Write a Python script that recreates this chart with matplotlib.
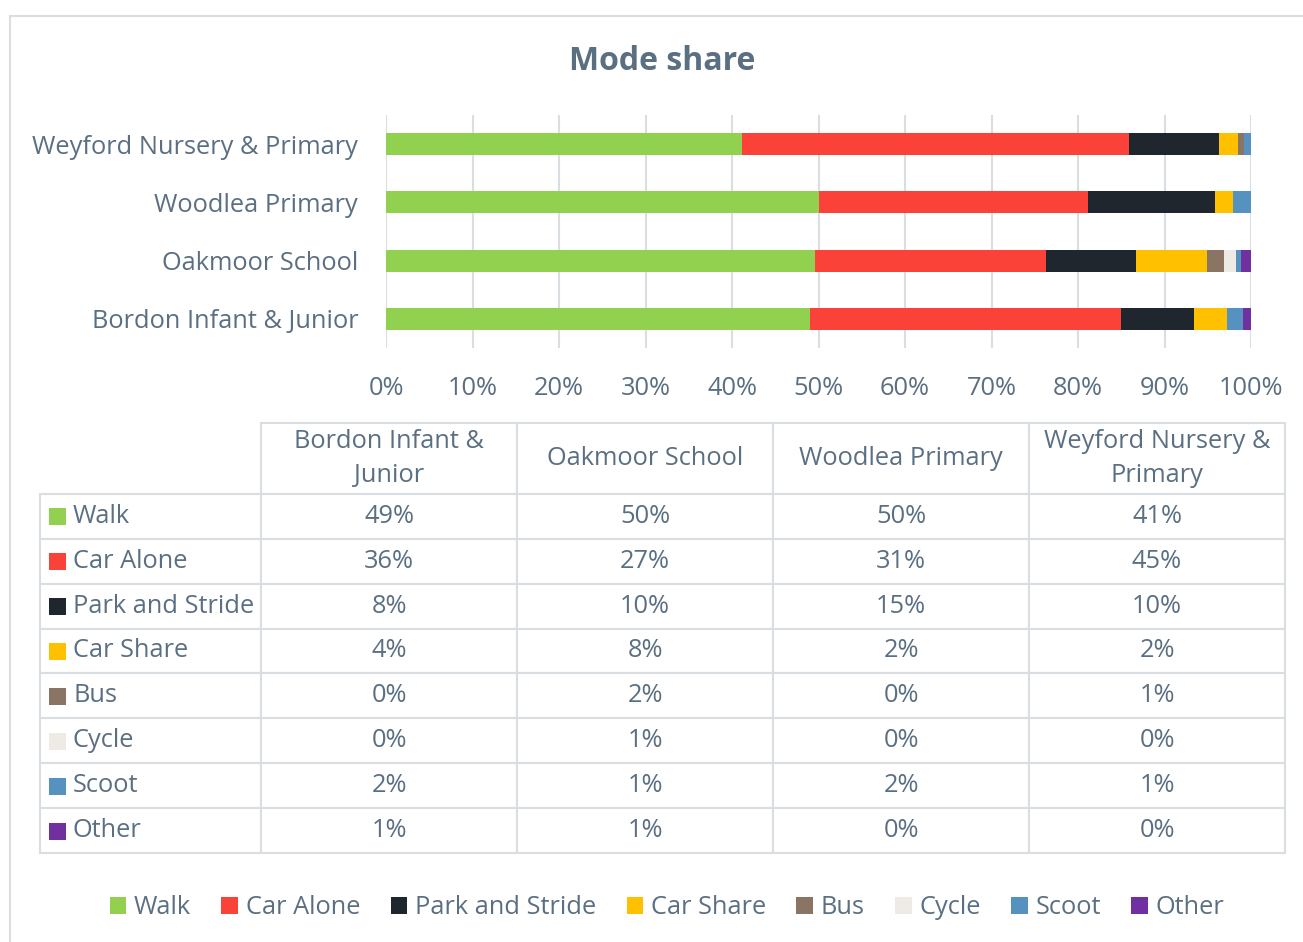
import matplotlib
matplotlib.use("Agg")
import matplotlib.pyplot as plt
from matplotlib.patches import Rectangle, Patch
from matplotlib.table import Table

plt.rcParams['font.family'] = ['Open Sans', 'DejaVu Sans']

# data (percent), order: Bordon, Oakmoor, Woodlea, Weyford
schools = ['Bordon Infant & Junior', 'Oakmoor School', 'Woodlea Primary', 'Weyford Nursery & Primary']
header_labels = ['Bordon Infant &\nJunior', 'Oakmoor School', 'Woodlea Primary', 'Weyford Nursery &\nPrimary']
modes = ['Walk', 'Car Alone', 'Park and Stride', 'Car Share', 'Bus', 'Cycle', 'Scoot', 'Other']
walk = [49.0, 49.6, 50.1, 41.2]
car_alone = [36.0, 26.7, 31.1, 44.7]
park_stride = [8.4, 10.4, 14.6, 10.4]
car_share = [3.8, 8.2, 2.1, 2.2]
bus = [0.0, 2.0, 0.0, 0.7]
cycle = [0.0, 1.35, 0.0, 0.0]
scoot = [1.9, 0.6, 2.1, 0.8]
other = [0.9, 1.15, 0.0, 0.0]
series = [walk, car_alone, park_stride, car_share, bus, cycle, scoot, other]
colors = ['#92D050', '#FA4238', '#1F262D', '#FFC000', '#8A7565', '#EEEAE6', '#5592C0', '#7030A0']

txt = '#5B6F82'
grid = '#D9DEE3'
fs = 18.3
W, H = 1303, 942

fig = plt.figure(figsize=(W / 100, H / 100), dpi=100)

# outer chart frame
fig.patches.append(Rectangle((10 / W, -0.1), 1.2, 1 - 16 / H + 0.1, transform=fig.transFigure,
                             fill=False, edgecolor=grid, lw=1.5))

fig.text(662 / W, 1 - 61 / H, 'Mode share', ha='center', va='center', fontsize=23,
         fontweight='bold', color=txt)

# bars
ax = fig.add_axes([386 / W, 1 - 348 / H, 865 / W, 233 / H])
ypos = range(len(schools))
left = [0.0] * len(schools)
for vals, col in zip(series, colors):
    ax.barh(ypos, vals, left=left, height=0.38, color=col, zorder=3)
    left = [l + v for l, v in zip(left, vals)]
ax.set_xlim(0, 100)
ax.set_ylim(-0.5, 3.5)
ax.set_xticks(range(0, 101, 10))
ax.set_xticklabels([f'{t}%' for t in range(0, 101, 10)])
ax.set_yticks(list(ypos))
ax.set_yticklabels(schools)
ax.grid(axis='x', color=grid, lw=1.5, zorder=0)
for s in ax.spines.values():
    s.set_visible(False)
ax.tick_params(axis='both', length=0, labelsize=fs, colors=txt)
ax.tick_params(axis='x', pad=20)
ax.tick_params(axis='y', pad=20)

# data table
ax_t = fig.add_axes([40 / W, 1 - 853 / H, 1245 / W, 430 / H])
ax_t.set_axis_off()
tbl = Table(ax_t, bbox=[0, 0, 1, 1])
col_w = [221] + [256] * 4
row_h = [71] + [45] * len(modes)
for r in range(len(modes) + 1):
    for c in range(5):
        if r == 0 and c == 0:
            text = ''
        elif r == 0:
            text = header_labels[c - 1]
        elif c == 0:
            text = modes[r - 1]
        else:
            text = f'{series[r - 1][c - 1]:.0f}%'
        cell = tbl.add_cell(r, c, col_w[c], row_h[r], text=text,
                            loc='left' if c == 0 else 'center', edgecolor=grid)
        cell.set_linewidth(1.5)
        cell.get_text().set_color(txt)
        cell.get_text().set_fontsize(fs)
        cell.get_text().set_linespacing(1.5)
        if c == 0:
            cell.PAD = 33 / 221
        if r == 0 and c == 0:
            cell.visible_edges = 'open'
tbl.auto_set_font_size(False)
ax_t.add_table(tbl)
for i, col in enumerate(colors):
    yc = 1 - (71 + 45 * (i + 0.5)) / 430
    ax_t.add_patch(Rectangle((9 / 1245, yc - 8.5 / 430), 17 / 1245, 17 / 430,
                             facecolor=col, edgecolor='none'))

# legend
handles = [Patch(facecolor=c, edgecolor='none', label=m) for m, c in zip(modes, colors)]
fig.legend(handles=handles, loc='center', bbox_to_anchor=(667 / W, 1 - 908 / H), ncol=8,
           frameon=False, fontsize=fs, labelcolor=txt, handlelength=0.65, handleheight=0.65,
           handletextpad=0.3, columnspacing=1.2)

fig.savefig('out.png', dpi=100)
